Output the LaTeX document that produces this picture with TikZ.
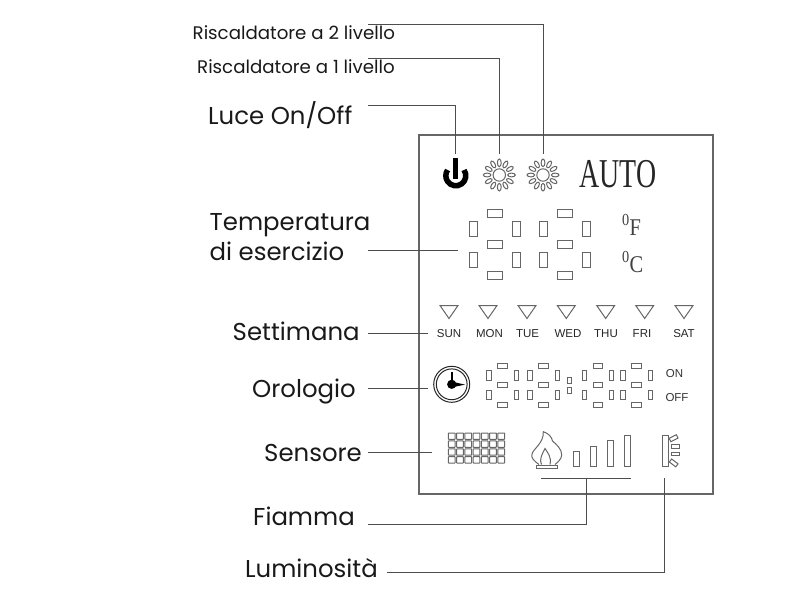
\documentclass[tikz,border=0pt]{standalone}
\usepackage{fontspec}
\setmainfont{Poppins}
\newfontfamily\panelserif{Liberation Serif}
\newfontfamily\panelsans{Liberation Sans}
\usetikzlibrary{positioning}
\definecolor{leadgray}{HTML}{4D4D4D}
\definecolor{segmentgray}{HTML}{666666}
\tikzset{
  bigtag/.style={anchor=base west,inner sep=0pt,text=black!90,font=\fontsize{24.4}{30}\selectfont},
  smalltag/.style={anchor=base west,inner sep=0pt,text=black!90,font=\fontsize{18.2}{20}\selectfont},
  lead/.style={draw=leadgray,line width=.9pt},
  segment/.style={draw=segmentgray,line width=1pt},
  daytag/.style={anchor=base,inner sep=0pt,text=black!85,font=\panelsans\fontsize{11.5}{13}\selectfont},
  onofftag/.style={anchor=base,inner sep=0pt,text=black!80,font=\panelsans\fontsize{11.5}{13}\selectfont},
  unittag/.style={anchor=base west,inner sep=0pt,text=black!75,xscale=.85,transform shape,font=\panelserif\fontsize{24}{24}\selectfont}
}
% seven segments: centre x, top y, half length, half width, gap x, gap y
\newcommand{\lcddigit}[6]{
  \foreach \dy in {0,1,2}
    \draw[segment] (#1-#3,#2+\dy*#6-#4) rectangle (#1+#3,#2+\dy*#6+#4);
  \foreach \sx in {-1,1}
    \foreach \dy in {.5,1.5}
      \draw[segment] (#1+\sx*#5-#4,#2+\dy*#6-#3) rectangle (#1+\sx*#5+#4,#2+\dy*#6+#3);
}
\newcommand{\sunicon}[2]{
  \draw[segment] (#1,#2) circle (6.2);
  \foreach \ang in {0,30,...,330}
    \draw[segment,shift={(#1,#2)},rotate=\ang] (12.2,0) ellipse (3.8 and 1.9);
}
\newcommand{\rayicon}[3]{
  \draw[segment,shift={(#1,#2)},rotate=#3] (0,-1.9) rectangle (8,1.9);
}

\begin{document}
\begin{tikzpicture}[x=1pt,y=-1pt]
  \useasboundingbox (0,0) rectangle (800,600);
  \draw[draw=segmentgray,line width=1.1pt] (419,135) rectangle (713,494);

  % labels on the left
  \node[smalltag] (lblheattwo) at (192.5,39) {Riscaldatore a 2 livello};
  \node[smalltag] (lblheatone) at (197,73) {Riscaldatore a 1 livello};
  \node[bigtag] (lbllight) at (208,124) {Luce On/Off};
  \node[bigtag] (lbltempone) at (209.5,230) {Temperatura};
  \node[bigtag] (lbltemptwo) at (209.5,260) {di esercizio};
  \node[bigtag] (lblweek) at (232.5,340) {Settimana};
  \node[bigtag] (lblclock) at (252,397) {Orologio};
  \node[bigtag] (lblsensor) at (264,461.5) {Sensore};
  \node[bigtag] (lblflame) at (253,525) {Fiamma};
  \node[bigtag] (lbllum) at (245,577) {Luminosità};

  % lead ends
  \coordinate (heattwostart) at (368,24.5);
  \coordinate (heatonestart) at (368,58.5);
  \coordinate (lightstart) at (368,105);
  \coordinate (tempstart) at (368,250);
  \coordinate (weekstart) at (368,333.5);
  \coordinate (clockstart) at (368,388);
  \coordinate (sensorstart) at (368,452.5);
  \coordinate (flamestart) at (368,524);
  \coordinate (lumstart) at (386.5,572.5);
  \coordinate (lighttip) at (455.7,154);
  \coordinate (heatonetip) at (499,154);
  \coordinate (heattwotip) at (543,154);
  \coordinate (temptip) at (458,250);
  \coordinate (weektip) at (428,333.5);
  \coordinate (clocktip) at (428,388);
  \coordinate (sensortip) at (432,452.5);
  \coordinate (flameleft) at (541,478.3);
  \coordinate (flameright) at (631,478.3);
  \coordinate (flametip) at (586,478.3);
  \coordinate (lumtip) at (664.5,478.3);

  \draw[lead] (heattwostart) -| (heattwotip);
  \draw[lead] (heatonestart) -| (heatonetip);
  \draw[lead] (lightstart) -| (lighttip);
  \draw[lead] (tempstart) -- (temptip);
  \draw[lead] (weekstart) -- (weektip);
  \draw[lead] (clockstart) -- (clocktip);
  \draw[lead] (sensorstart) -- (sensortip);
  \draw[lead] (flamestart) -| (flametip);
  \draw[lead] (flameleft) -- (flameright);
  \draw[lead] (lumstart) -| (lumtip);

  % top row
  \draw[black,line width=5.5pt] (464,170) arc (-35:215:10);
  \draw[black,line width=4.5pt] (455.7,158) -- (455.7,179);
  \sunicon{499.3}{175}
  \sunicon{543}{175}
  \node[anchor=base,inner sep=0pt,text=black!85,xscale=.68,transform shape,font=\panelserif\fontsize{41}{44}\selectfont] (autotag) at (618,187) {AUTO};

  % temperature digits
  \lcddigit{495}{213}{7.5}{4}{21.5}{31}
  \lcddigit{565}{213}{7.5}{4}{21.5}{31}
  \node[unittag] (unitf) at (622,235) {\textsuperscript{0}F};
  \node[unittag] (unitc) at (622,272) {\textsuperscript{0}C};

  % week days
  \foreach \tx in {449,488,527,566.3,605.7,644.7,684}
    \draw[segment] (\tx-9,305.5) -- (\tx+9,305.5) -- (\tx,318.5) -- cycle;
  \foreach \tx/\tname/\ttext in {449/sun/SUN,489.5/mon/MON,527.5/tue/TUE,568/wed/WED,606/thu/THU,642/fri/FRI,684/sat/SAT}
    \node[daytag] (day\tname) at (\tx,337) {\ttext};

  % clock
  \draw[draw=black!85,line width=1pt] (451.7,384.3) circle (18);
  \draw[draw=black!85,line width=1pt] (451.7,384.3) circle (15.4);
  \fill[black] (451.7,384.3) circle (4.6);
  \draw[black,line width=2pt] (451.7,384.3) -- (451.7,372);
  \fill[black] (451.7,381.6) -- (465,384.6) -- (451.7,387.4) -- cycle;
  \lcddigit{502.7}{365.7}{4.8}{2.3}{13.6}{19.5}
  \lcddigit{543.7}{365.7}{4.8}{2.3}{13.6}{19.5}
  \lcddigit{598}{365.7}{4.8}{2.3}{13.6}{19.5}
  \lcddigit{636.7}{365.7}{4.8}{2.3}{13.6}{19.5}
  \draw[segment] (567.7,377.7) rectangle (571.7,383.7);
  \draw[segment] (567.7,387.2) rectangle (571.7,393.2);
  \node[onofftag] (ontag) at (674.5,377) {ON};
  \node[onofftag] (offtag) at (677,401.5) {OFF};

  % sensor grid
  \foreach \col in {0,...,6}
    \foreach \row in {0,...,3}
      \draw[segment,rounded corners=.6pt] (448.3+\col*8.25,433+\row*7.9) rectangle ++(6.9,6.4);

  % flame and bars
  \draw[segment] (539,464.5) .. controls (534,461) and (531,458) .. (532,454)
    .. controls (533,449) and (544,443) .. (543.3,431.7)
    .. controls (548,433) and (552,437) .. (552.5,441)
    .. controls (556,444) and (562,449) .. (561.7,455)
    .. controls (561.5,459) and (558,462) .. (555,464.5);
  \draw[segment] (541.5,464.5) .. controls (539,460) and (542,454) .. (545,448.5)
    .. controls (547,452) and (552,457) .. (550,464.5);
  \draw[segment] (536.7,465) rectangle (557.7,468);
  \draw[segment] (573.7,451.7) rectangle (579.7,466.3);
  \draw[segment] (590.3,446) rectangle (596.3,466.3);
  \draw[segment] (607.3,440.5) rectangle (613.3,466.3);
  \draw[segment] (624.3,435) rectangle (630.3,466.3);

  % brightness
  \draw[segment] (662.3,435) rectangle (668.3,466.3);
  \rayicon{670}{440}{27}
  \rayicon{671.5}{446.7}{0}
  \rayicon{671.5}{454}{0}
  \rayicon{670.5}{460.5}{-37}
\end{tikzpicture}
\end{document}
